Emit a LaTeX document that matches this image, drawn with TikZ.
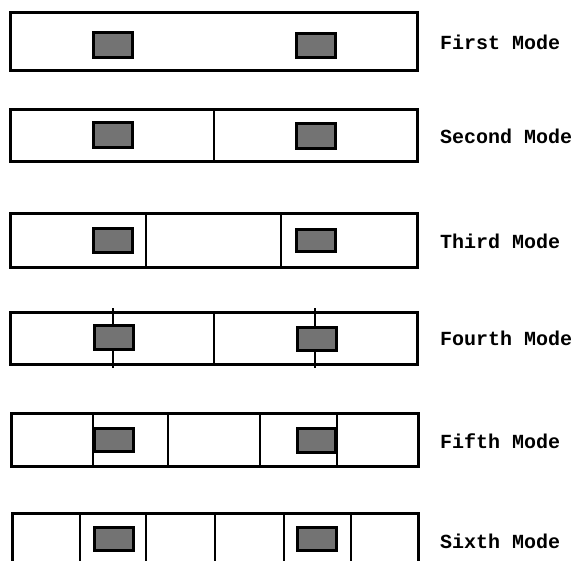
\documentclass[tikz,border=0pt]{standalone}
\usepackage{fontspec}
\newfontfamily\labelfont{Liberation Mono}
\begin{document}
\begin{tikzpicture}[x=1pt,y=-1pt,
  boxline/.style={line width=3pt, line cap=rect},
  divline/.style={line width=2.6pt},
  mass/.style={fill=black!55, draw=black, line width=3.4pt},
  modelabel/.style={anchor=west, inner sep=0pt, font=\labelfont\bfseries\fontsize{20}{20}\selectfont}]
\useasboundingbox (0,0) rectangle (575,561);
% Row 1
\draw[boxline] (10,13) rectangle (417,71);
\draw[mass] (93.7,32.7) rectangle (132.3,57.3);
\draw[mass] (296.7,33.7) rectangle (335.3,57.3);
\node[modelabel] (l1) at (440,42) {First Mode};
% Row 2
\draw[boxline] (10,110) rectangle (417,162);
\draw[divline] (214,110) -- (214,162);
\draw[mass] (93.7,122.7) rectangle (132.3,147.3);
\draw[mass] (296.7,123.7) rectangle (335.3,148.3);
\node[modelabel] (l2) at (440,136) {Second Mode};
% Row 3
\draw[boxline] (10,214) rectangle (417,267);
\draw[divline] (146,214) -- (146,267);
\draw[divline] (281,214) -- (281,267);
\draw[mass] (93.7,228.7) rectangle (132.3,252.3);
\draw[mass] (296.7,229.7) rectangle (335.3,251.3);
\node[modelabel] (l3) at (440,241) {Third Mode};
% Row 4
\draw[boxline] (10,312) rectangle (417,364);
\draw[divline] (214,312) -- (214,364);
\draw[divline] (113,308) -- (113,368);
\draw[divline] (315,308) -- (315,368);
\draw[mass] (94.7,325.7) rectangle (133.3,349.3);
\draw[mass] (297.7,327.7) rectangle (336.3,350.3);
\node[modelabel] (l4) at (440,338) {Fourth Mode};
% Row 5
\draw[boxline] (11,413) rectangle (418,466);
\foreach \xx in {93,168,260,337} \draw[divline] (\xx,413) -- (\xx,466);
\draw[mass] (94.7,428.7) rectangle (133.3,451.3);
\draw[mass] (297.7,428.7) rectangle (336,452.3);
\node[modelabel] (l5) at (440,441) {Fifth Mode};
% Row 6
\draw[boxline] (12,565) -- (12,513) -- (418,513) -- (418,565);
\foreach \xx in {80,146,215,284,351} \draw[divline] (\xx,513) -- (\xx,565);
\draw[mass] (94.7,527.7) rectangle (133.3,550.3);
\draw[mass] (297.7,527.7) rectangle (336.3,550.3);
\node[modelabel] (l6) at (440,541) {Sixth Mode};
\end{tikzpicture}
\end{document}
